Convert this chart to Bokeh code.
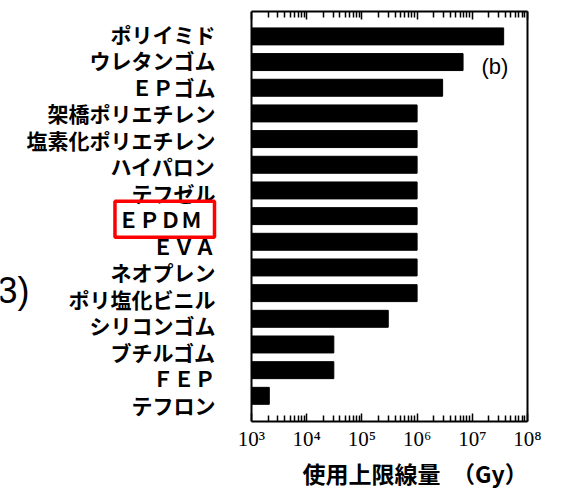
from bokeh.plotting import figure
from bokeh.models import Range1d, FixedTicker, LogAxis, LinearAxis, Label, Span, Title
from bokeh.core.properties import value
from bokeh.embed import file_html
from bokeh.resources import INLINE

# ---- data ----
materials = ["ポリイミド", "ウレタンゴム", "ＥＰゴム", "架橋ポリエチレン", "塩素化ポリエチレン",
             "ハイパロン", "テフゼル", "ＥＰＤＭ", "ＥＶＡ", "ネオプレン", "ポリ塩化ビニル",
             "シリコンゴム", "ブチルゴム", "ＦＥＰ", "テフロン"]
limit_dose = [3.7e7, 6.8e6, 2.9e6, 1.0e6, 1.0e6, 1.0e6, 1.0e6, 1.0e6, 1.0e6, 1.0e6,
              1.0e6, 3.0e5, 3.1e4, 3.1e4, 2.1e3]
x_ticks = [1e3, 1e4, 1e5, 1e6, 1e7, 1e8]
x_tick_labels = ["10³", "10⁴", "10⁵", "10⁶", "10⁷", "10⁸"]
highlighted = "ＥＰＤＭ"
x_title = "使用上限線量\u2002（Gy）"
panel_tag = "(b)"

# ---- layout helpers ----
PLOT_W = 276          # pixel width of the 10^3..10^8 box
LEFT_PAD = 251        # room for the category labels, left of the box
px_per_dec = PLOT_W / 5
def px_to_x(px_from_box):      # screen offset from box left edge -> log-axis data value
    return x_ticks[0] * 10 ** (px_from_box / px_per_dec)

rows = list(range(len(materials)))
label_offset, label_step = -0.1, 1.0316     # typeset label column is slightly looser than bars
label_y = [label_offset + label_step * r for r in rows]
minor = [m * 10 ** e for e in range(3, 8) for m in range(2, 10)]

p = figure(frame_width=LEFT_PAD + PLOT_W, frame_height=410,
           x_axis_type="log", x_range=Range1d(px_to_x(-LEFT_PAD), x_ticks[-1]),
           y_range=Range1d(15.0, -0.97), y_axis_location=None,
           output_backend="svg", toolbar_location=None,
           min_border_left=0, min_border_right=26, min_border_top=11, min_border_bottom=10)
p.background_fill_color = "white"
p.border_fill_color = "white"
p.outline_line_color = None
p.xgrid.visible = False
p.ygrid.visible = False

p.hbar(y=rows, right=limit_dose, left=x_ticks[0], height=0.66, color="black")

xa = p.xaxis[0]
xa.bounds = (x_ticks[0], x_ticks[-1])
xa.ticker = FixedTicker(ticks=x_ticks, minor_ticks=minor)
xa.major_label_overrides = dict(zip(x_ticks, x_tick_labels))
xa.major_label_text_font = "Liberation Serif"
xa.major_label_text_font_size = "21px"
xa.major_label_text_color = "black"
xa.major_label_standoff = 5
xa.major_tick_in = 8
xa.major_tick_out = 0
xa.minor_tick_in = 6
xa.minor_tick_out = 0
xa.major_tick_line_width = 1.5
xa.minor_tick_line_width = 1.5
xa.axis_line_width = 2

top = LogAxis(ticker=FixedTicker(ticks=x_ticks, minor_ticks=minor), bounds=(x_ticks[0], x_ticks[-1]),
              major_label_overrides={t: "" for t in x_ticks}, major_label_standoff=0,
              major_tick_in=8, major_tick_out=0, minor_tick_in=6, minor_tick_out=0,
              major_tick_line_width=1.5, minor_tick_line_width=1.5, axis_line_width=2)
p.add_layout(top, "above")

right = LinearAxis(ticker=FixedTicker(ticks=[]), axis_line_width=2,
                   major_tick_line_color=None, minor_tick_line_color=None)
p.add_layout(right, "right")
p.add_layout(Span(location=x_ticks[0], dimension="height", line_color="black", line_width=2))

title = Title(text=x_title, align="left", offset=302, standoff=0,
              text_font="Noto Sans CJK JP", text_font_style="bold", text_font_size="23px",
              text_color="black")
p.add_layout(title, "below")

# category labels left of the box
plain = [m for m in materials if m != highlighted]
plain_y = [y for y, m in zip(label_y, materials) if m != highlighted]
p.text(x=[px_to_x(-36)] * len(plain), y=plain_y, text=plain,
       text_align="right", text_baseline="middle", text_font=value("Noto Sans CJK JP"),
       text_font_style="bold", text_font_size="21px", text_color="black")

hi = materials.index(highlighted)
p.add_layout(Label(x=px_to_x(-37), y=label_y[hi], text=" " + highlighted + " ", text_align="right",
                   text_baseline="middle", text_font="Noto Sans CJK JP",
                   text_font_style="bold", text_font_size="21px", text_color="black",
                   border_line_color="#ff0000", border_line_width=3.5, padding=3))

p.add_layout(Label(x=px_to_x(230), y=1.17, text=panel_tag, text_align="left", text_baseline="middle",
                   text_font="Liberation Sans", text_font_size="22px", text_color="black"))

p.add_layout(Label(x=px_to_x(-222), y=9.9, text="3)", text_align="right", text_baseline="middle",
                   text_font="Liberation Sans", text_font_size="36px", text_color="black"))

open("out.html", "w").write(file_html(p, INLINE))
